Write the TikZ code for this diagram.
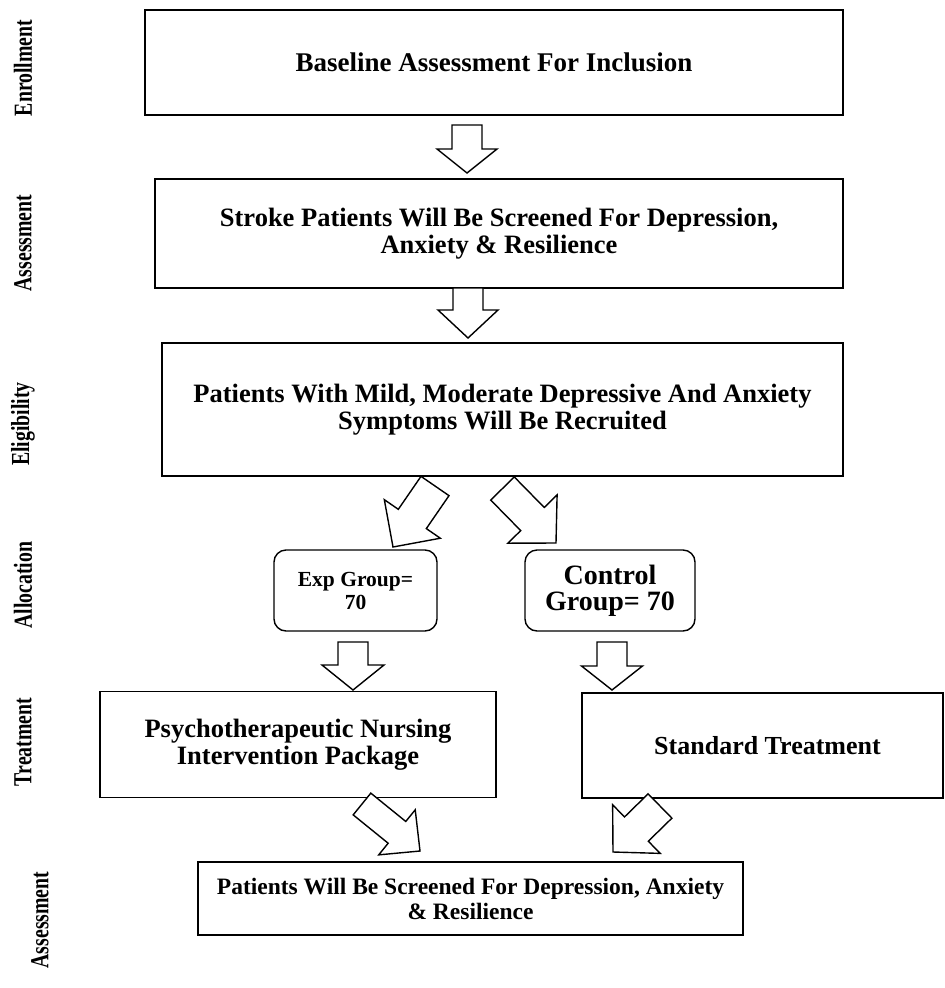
\documentclass[tikz,border=0pt]{standalone}
\usepackage{fontspec}
\setmainfont{Liberation Serif}
\newfontfamily\labfont{Liberation Serif}[FakeStretch=0.76]
\usetikzlibrary{calc}
\newcommand{\blkarrow}[5]{%
  \coordinate (ba-h) at ($(#1)!#5!(#2)$);
  \draw[blk] ($(#1)!#3!90:(#2)$) -- ($(ba-h)!#3!90:(#2)$) -- ($(ba-h)!#4!90:(#2)$) -- (#2)
    -- ($(ba-h)!#4!-90:(#2)$) -- ($(ba-h)!#3!-90:(#2)$) -- ($(#1)!#3!-90:(#2)$) -- cycle;}
\begin{document}
\begin{tikzpicture}[x=1pt,y=-1pt,
  box/.style={draw, line width=1.4pt, inner sep=0pt, align=center,
    font=\bfseries\fontsize{26.5}{26.5}\selectfont},
  rbox/.style={box, rounded corners=12pt},
  lab/.style={rotate=90, inner sep=0pt, font=\labfont\bfseries\fontsize{26}{26}\selectfont},
  blk/.style={draw, fill=white, line width=1.4pt, line join=miter}]
\useasboundingbox (0,0) rectangle (945,988);
\fill[white] (0,0) rectangle (945,988);

% side labels
\node[lab] (l1) at (23,68) {Enrollment};
\node[lab] (l2) at (23,243) {Assessment};
\node[lab] (l3) at (23,424) {Eligibility};
\node[lab] (l4) at (23,585) {Allocation};
\node[lab] (l5) at (23,742) {Treatment};
\node[lab] (l6) at (40,920) {Assessment};

% boxes
\node[box, minimum width=698, minimum height=105, font=\bfseries\fontsize{27}{27}\selectfont] (b1) at (494,62.5) {Baseline Assessment For Inclusion};
\node[box, minimum width=688, minimum height=109] (b2) at (499,233.5) {Stroke Patients Will Be Screened For Depression,\\ Anxiety \& Resilience};
\node[box, minimum width=681, minimum height=133] (b3) at (502.5,409.5) {Patients With Mild, Moderate Depressive And Anxiety\\ Symptoms Will Be Recruited};
\node[rbox, minimum width=163, minimum height=81, font=\bfseries\fontsize{21.5}{23}\selectfont] (exp) at (355.5,590.5) {Exp Group=\\ 70};
\node[rbox, minimum width=170, minimum height=81, font=\bfseries\fontsize{28}{26}\selectfont] (ctl) at (610,590.5) {Control\\ Group= 70};
\node[box, minimum width=396, minimum height=106] (b4) at (298,744.5) {Psychotherapeutic Nursing\\ Intervention Package};
\node[box, minimum width=361, minimum height=105, font=\bfseries\fontsize{26}{26}\selectfont] (b5) at (762.5,745.5) {\hspace*{10pt}Standard Treatment};
\node[box, minimum width=545, minimum height=73, font=\bfseries\fontsize{23.5}{25}\selectfont] (b6) at (470.5,898.5) {Patients Will Be Screened For Depression, Anxiety\\ \& Resilience};

% arrow anchor points
\coordinate (a1t) at (467,125);   \coordinate (a1p) at (467,173);
\coordinate (a2t) at (468,288);   \coordinate (a2p) at (468,338);
\coordinate (a3t) at (435,486);   \coordinate (a3p) at (393,547);
\coordinate (a4t) at (502.5,488.5); \coordinate (a4p) at (556,543);
\coordinate (a5t) at (353,642);   \coordinate (a5p) at (353,690);
\coordinate (a6t) at (612,642);   \coordinate (a6p) at (612,690);
\coordinate (a7t) at (362,804);   \coordinate (a7p) at (420,851);
\coordinate (a8t) at (660,806);   \coordinate (a8p) at (613,852);

\blkarrow{a1t}{a1p}{15pt}{30pt}{24pt}
\blkarrow{a2t}{a2p}{15pt}{30pt}{22pt}
\blkarrow{a3t}{a3p}{17pt}{34pt}{40pt}
\blkarrow{a4t}{a4p}{16.5pt}{34.5pt}{42.8pt}
\blkarrow{a5t}{a5p}{15pt}{31pt}{23pt}
\blkarrow{a6t}{a6p}{15pt}{30.5pt}{24pt}
\blkarrow{a7t}{a7p}{14pt}{29pt}{45pt}
\blkarrow{a8t}{a8p}{17pt}{34pt}{33pt}
\end{tikzpicture}
\end{document}
